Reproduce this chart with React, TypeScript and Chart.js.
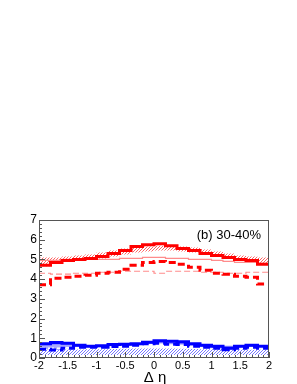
import React, { useEffect, useRef } from "react";
import { Chart, registerables } from "chart.js";
Chart.register(...registerables);

const binEdges = [-2, -1.8, -1.6, -1.4, -1.2, -1, -0.8, -0.6, -0.4, -0.2, 0, 0.2, 0.4, 0.6, 0.8, 1, 1.2, 1.4, 1.6, 1.8, 2];
const xTickValues = [-2, -1.5, -1, -0.5, 0, 0.5, 1, 1.5, 2];
const yTickValues = [0, 1, 2, 3, 4, 5, 6, 7];

const redSolid = [4.7, 4.85, 4.95, 5.0, 5.05, 5.15, 5.3, 5.45, 5.65, 5.75, 5.8, 5.7, 5.55, 5.45, 5.3, 5.2, 5.1, 5.0, 4.95, 4.75];
const redDashed = [3.72, 4.05, 4.1, 4.15, 4.2, 4.3, 4.35, 4.5, 4.7, 4.85, 4.9, 4.85, 4.75, 4.6, 4.45, 4.3, 4.25, 4.15, 4.1, 3.75];
const redThinSolid = [4.95, 4.95, 5.0, 5.0, 5.0, 5.0, 5.0, 5.05, 5.05, 5.1, 5.1, 5.05, 5.05, 5.0, 5.0, 4.95, 4.9, 4.85, 4.85, 4.8];
const redThinDashed = [4.3, 4.25, 4.25, 4.3, 4.3, 4.35, 4.35, 4.4, 4.4, 4.4, 4.3, 4.4, 4.4, 4.4, 4.35, 4.35, 4.3, 4.3, 4.35, 4.35];
const redBandLow = [4.65, 4.8, 4.9, 4.95, 5.0, 5.05, 5.15, 5.25, 5.35, 5.4, 5.45, 5.45, 5.4, 5.35, 5.25, 5.15, 5.05, 4.95, 4.85, 4.75];
const redBandHigh = [5.1, 5.1, 5.15, 5.2, 5.25, 5.35, 5.45, 5.55, 5.6, 5.65, 5.7, 5.7, 5.65, 5.6, 5.5, 5.4, 5.3, 5.2, 5.15, 5.1];

const blueSolid = [0.72, 0.78, 0.75, 0.65, 0.6, 0.62, 0.68, 0.7, 0.72, 0.8, 0.88, 0.85, 0.82, 0.72, 0.65, 0.6, 0.5, 0.6, 0.65, 0.6];
const blueDashed = [0.45, 0.4, 0.5, 0.55, 0.55, 0.55, 0.58, 0.6, 0.65, 0.72, 0.75, 0.7, 0.68, 0.6, 0.55, 0.5, 0.42, 0.5, 0.55, 0.5];
const blueThinSolid = [0.68, 0.7, 0.68, 0.62, 0.6, 0.62, 0.65, 0.68, 0.7, 0.75, 0.78, 0.76, 0.74, 0.7, 0.64, 0.6, 0.58, 0.6, 0.62, 0.62];
const blueThinDashed = [0.5, 0.5, 0.52, 0.52, 0.52, 0.55, 0.55, 0.58, 0.6, 0.62, 0.6, 0.62, 0.6, 0.58, 0.55, 0.52, 0.5, 0.5, 0.52, 0.52];
const blueBandLow = [0.15, 0.15, 0.15, 0.15, 0.15, 0.15, 0.15, 0.15, 0.15, 0.15, 0.15, 0.15, 0.15, 0.15, 0.15, 0.15, 0.15, 0.15, 0.15, 0.15];
const blueBandHigh = [0.42, 0.42, 0.43, 0.43, 0.44, 0.45, 0.46, 0.47, 0.48, 0.48, 0.48, 0.48, 0.47, 0.46, 0.45, 0.44, 0.43, 0.43, 0.42, 0.42];

const panelLabel = "(b) 30-40%";
const xTitle = "Δ η";

function hist(values: number[]) {
  const pts = values.map((v, i) => ({ x: binEdges[i], y: v }));
  pts.push({ x: binEdges[binEdges.length - 1], y: values[values.length - 1] });
  return pts;
}

const FONT = "'Liberation Sans', Arial, sans-serif";

const hatchBands = [
  { low: redBandLow, high: redBandHigh, color: "rgb(255,100,100)" },
  { low: blueBandLow, high: blueBandHigh, color: "rgb(120,120,255)" },
];

export default function App() {
  const ref = useRef<HTMLCanvasElement>(null);
  useEffect(() => {
    const canvas = ref.current!;
    const line = (data: number[], color: string, width: number, dash: number[] = []) => ({
      data: hist(data),
      borderColor: color,
      borderWidth: width,
      borderDash: dash,
      stepped: true,
      pointRadius: 0,
      fill: false,
      borderCapStyle: "butt",
    });
    const hatch = {
      id: "hatch",
      beforeDatasetsDraw(chart: any) {
        const { ctx, chartArea: a, scales } = chart;
        const xs = scales.x;
        const ys = scales.y;
        hatchBands.forEach((b) => {
          ctx.save();
          ctx.setLineDash([]);
          ctx.globalAlpha = 1;
          ctx.beginPath();
          const n = b.high.length;
          for (let i = 0; i < n; i++) {
            const x0 = xs.getPixelForValue(binEdges[i]);
            const x1 = xs.getPixelForValue(binEdges[i + 1]);
            const y = ys.getPixelForValue(b.high[i]);
            if (i === 0) ctx.moveTo(x0, y);
            else ctx.lineTo(x0, y);
            ctx.lineTo(x1, y);
          }
          for (let i = n - 1; i >= 0; i--) {
            const x0 = xs.getPixelForValue(binEdges[i]);
            const x1 = xs.getPixelForValue(binEdges[i + 1]);
            const y = ys.getPixelForValue(b.low[i]);
            ctx.lineTo(x1, y);
            ctx.lineTo(x0, y);
          }
          ctx.closePath();
          ctx.clip();
          ctx.strokeStyle = b.color;
          ctx.lineWidth = 1;
          const h = a.bottom - a.top;
          for (let x = Math.floor(a.left - h); x < a.right + h; x += 3) {
            ctx.beginPath();
            ctx.moveTo(x, a.bottom);
            ctx.lineTo(x + h, a.top);
            ctx.stroke();
          }
          ctx.restore();
        });
      },
    };
    const decor = {
      id: "decor",
      afterDraw(chart: any) {
        const { ctx, chartArea: a, scales } = chart;
        const xs = scales.x;
        const ys = scales.y;
        ctx.save();
        ctx.strokeStyle = "#555";
        ctx.lineWidth = 1;
        ctx.strokeRect(a.left + 0.5, a.top + 0.5, a.right - a.left - 1, a.bottom - a.top - 1);
        ctx.beginPath();
        for (let v = -2; v <= 2.0001; v += 0.1) {
          const px = Math.round(xs.getPixelForValue(v)) + 0.5;
          const major = Math.abs(v * 2 - Math.round(v * 2)) < 1e-6;
          ctx.moveTo(px, a.bottom);
          ctx.lineTo(px, a.bottom - (major ? 6 : 3));
        }
        for (let v = 0; v <= 7.0001; v += 0.2) {
          const py = Math.round(ys.getPixelForValue(v)) + 0.5;
          const major = Math.abs(v - Math.round(v)) < 1e-6;
          ctx.moveTo(a.left, py);
          ctx.lineTo(a.left + (major ? 6 : 3), py);
        }
        ctx.stroke();
        ctx.fillStyle = "#000";
        ctx.font = `13px ${FONT}`;
        ctx.textAlign = "right";
        ctx.textBaseline = "alphabetic";
        ctx.fillText(panelLabel, 261, 239);
        ctx.font = `15px ${FONT}`;
        ctx.textAlign = "center";
        ctx.fillText(xTitle, 155, 382);
        ctx.restore();
      },
    };
    const chart = new Chart(canvas, {
      type: "line",
      data: {
        datasets: [
          line(redSolid, "#ff0000", 3),
          line(redDashed, "#ff0000", 3, [7, 4]),
          line(redThinSolid, "rgba(255,140,140,1)", 1.2),
          line(redThinDashed, "rgba(255,140,140,1)", 1.2, [6, 3]),
          line(blueSolid, "#0000ff", 3),
          line(blueDashed, "#0000ff", 3, [7, 4]),
          line(blueThinSolid, "rgba(140,140,255,1)", 1.5),
          line(blueThinDashed, "rgba(255,255,255,1)", 1.5, [6, 3]),
          { data: hist(blueSolid), stepped: true, pointRadius: 0, borderWidth: 0, fill: false },
          { data: hist(blueDashed), stepped: true, pointRadius: 0, borderWidth: 0, fill: "-1", backgroundColor: "rgba(140,140,255,0.75)" },
        ] as any,
      },
      options: {
        animation: false,
        responsive: false,
        events: [],
        layout: { padding: { top: 220, right: 28, left: 0, bottom: 0 } },
        plugins: { legend: { display: false }, tooltip: { enabled: false } },
        scales: {
          x: {
            type: "linear",
            min: -2,
            max: 2,
            grid: { display: false, drawTicks: false },
            border: { display: false },
            afterBuildTicks: (s: any) => {
              s.ticks = xTickValues.map((v) => ({ value: v }));
            },
            afterFit: (s: any) => {
              s.height = 26;
            },
            ticks: {
              color: "#000",
              font: { family: FONT, size: 11 },
              padding: 1,
              maxRotation: 0,
              autoSkip: false,
              callback: (v: any) => String(v),
            },
          },
          y: {
            type: "linear",
            min: 0,
            max: 7,
            grid: { display: false, drawTicks: false },
            border: { display: false },
            afterBuildTicks: (s: any) => {
              s.ticks = yTickValues.map((v) => ({ value: v }));
            },
            afterFit: (s: any) => {
              s.width = 39;
            },
            ticks: {
              color: "#000",
              font: { family: FONT, size: 12 },
              padding: 2,
              callback: (v: any) => String(v),
            },
          },
        },
      },
      plugins: [hatch, decor],
    } as any);
    return () => chart.destroy();
  }, []);
  return (
    <div style={{ position: "absolute", left: 0, top: 0, width: 297, height: 384 }}>
      <canvas ref={ref} width={297} height={384} style={{ display: "block" }} />
    </div>
  );
}
